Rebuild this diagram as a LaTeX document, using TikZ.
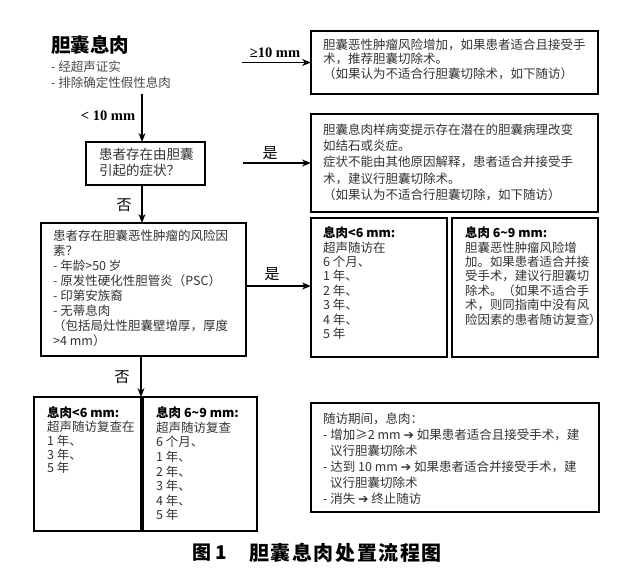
\documentclass[tikz,border=0pt]{standalone}
\usepackage{fontspec}
\setmainfont{Noto Sans CJK SC}
\newfontfamily\lserif{Liberation Serif}
\newfontfamily\dvs{DejaVu Sans}
\newfontfamily\capfont[LetterSpace=8]{Noto Sans CJK SC}
\usetikzlibrary{arrows.meta}
\definecolor{txtc}{HTML}{333333}
\definecolor{subc}{HTML}{4a4a4a}
\begin{document}
\begin{tikzpicture}[x=1pt,y=-1pt,
  box/.style={draw, line width=1.3pt, anchor=north west, inner sep=0pt, outer sep=0pt},
  txt/.style={anchor=north west, inner sep=0pt, align=left, text=txtc},
  arr/.style={-{Stealth[length=9pt,width=7pt]}, line width=1.3pt},
  lbl/.style={inner sep=0pt, font=\lserif\bfseries\fontsize{14.5}{16}\selectfont},
  cjl/.style={inner sep=0pt, font=\fontsize{15}{16}\selectfont},
]
\useasboundingbox[fill=white] (0,0) rectangle (640,573);

% title
\node[anchor=west, inner sep=0pt, font=\bfseries\fontsize{19.5}{22}\selectfont] (title) at (51,45) {胆囊息肉};
\node[anchor=west, inner sep=0pt, text=subc, font=\fontsize{12.5}{14}\selectfont] (sub1) at (51,67) {- 经超声证实};
\node[anchor=west, inner sep=0pt, text=subc, font=\fontsize{12.5}{14}\selectfont] (sub2) at (51,83) {- 排除确定性假性息肉};

% boxes
\node[box, minimum width=287pt, minimum height=63pt] (b1) at (311,31) {};
\node[txt, font=\fontsize{12.5}{14.3}\selectfont] (t1) at (323,38.75) {胆囊恶性肿瘤风险增加，如果患者适合且接受手\\术，推荐胆囊切除术。\\（如果认为不适合行胆囊切除术，如下随访）};

\node[box, minimum width=287pt, minimum height=98pt] (b2) at (311,114) {};
\node[txt, font=\fontsize{12.5}{16.2}\selectfont] (t2) at (323,123.75) {胆囊息肉样病变提示存在潜在的胆囊病理改变\\如结石或炎症。\\症状不能由其他原因解释，患者适合并接受手\\术，建议行胆囊切除术。\\（如果认为不适合行胆囊切除，如下随访）};

\node[box, minimum width=119pt, minimum height=43pt] (q1) at (86,142) {};
\node[txt, font=\fontsize{13.5}{16}\selectfont] (tq1) at (99,148.25) {患者存在由胆囊\\引起的症状？};

\node[box, minimum width=205pt, minimum height=133pt] (r) at (41,223) {};
\node[txt, font=\fontsize{12.5}{15}\selectfont] (tr) at (53,229.75) {患者存在胆囊恶性肿瘤的风险因\\素？\\- 年龄>50 岁\\- 原发性硬化性胆管炎（PSC）\\- 印第安族裔\\- 无蒂息肉\\（包括局灶性胆囊壁增厚，厚度\\>4 mm）};

\node[box, minimum width=136pt, minimum height=139pt] (b4a) at (311,218) {};
\node[txt, font=\fontsize{12.5}{14.4}\selectfont] (t4a) at (323,226.75) {\textbf{\color{black}息肉<6 mm:}\\超声随访在\\6 个月、\\1 年、\\2 年、\\3 年、\\4 年、\\5 年};

\node[box, minimum width=146pt, minimum height=139pt] (b4b) at (452,218) {};
\node[txt, font=\fontsize{12.4}{14.4}\selectfont] (t4b) at (465,226.75) {\textbf{\color{black}息肉 6{\char"7E}9 mm:}\\胆囊恶性肿瘤风险增\\加。如果患者适合并接\\受手术，建议行胆囊切\\除术。（如果不适合手\\术，则同指南中没有风\\险因素的患者随访复查）};

\node[box, minimum width=107pt, minimum height=134pt] (b5a) at (34,397) {};
\node[txt, font=\fontsize{12.5}{13.8}\selectfont] (t5a) at (47,406.75) {\textbf{\color{black}息肉<6 mm:}\\超声随访复查在\\1 年、\\3 年、\\5 年};

\node[box, minimum width=114pt, minimum height=134pt] (b5b) at (143,397) {};
\node[txt, font=\fontsize{12.5}{14.6}\selectfont] (t5b) at (156,406.75) {\textbf{\color{black}息肉 6{\char"7E}9 mm:}\\超声随访复查\\6 个月、\\1 年、\\2 年、\\3 年、\\4 年、\\5 年};

\node[box, minimum width=288pt, minimum height=109pt] (b6) at (311,403) {};
\node[txt, font=\fontsize{12.5}{16}\selectfont] (t6) at (323,412.75) {随访期间，息肉：\\- 增加≥2 mm {\dvs\bfseries ➔} 如果患者适合且接受手术，建\\\hspace*{7pt}议行胆囊切除术\\- 达到 10 mm {\dvs\bfseries ➔} 如果患者适合并接受手术，建\\\hspace*{7pt}议行胆囊切除术\\- 消失 {\dvs\bfseries ➔} 终止随访};

% connectors
\coordinate (c1) at (242,62.5);
\draw[arr] (c1) -- (b1.west);
\node[lbl] (l1) at (275,53) {≥10 mm};

\coordinate (c2) at (142,94);
\draw[arr] (c2) -- (c2 |- q1.north);
\node[lbl] (l2) at (108,116) {< 10 mm};

\coordinate (c3) at (243,163);
\draw[arr] (c3) -- (c3 -| b2.west);
\node[cjl] (l3) at (270,153) {是};

\draw[arr] (c2 |- q1.south) -- (c2 |- r.north);
\node[cjl] (l4) at (124,205) {否};

\coordinate (c4) at (246,286);
\draw[arr] (c4) -- (c4 -| b4a.west);
\node[cjl] (l5) at (272,274) {是};

\coordinate (c5) at (141,356);
\draw[arr] (c5) -- (c5 |- b5a.north);
\node[cjl] (l6) at (122,377) {否};

% caption
\node[anchor=west, inner sep=0pt, font=\bfseries\fontsize{19}{22}\selectfont] (cap1) at (192,553) {图 1};
\node[anchor=west, inner sep=0pt, font=\capfont\bfseries\fontsize{20}{22}\selectfont] (cap2) at (249,553) {胆囊息肉处置流程图};
\end{tikzpicture}
\end{document}
